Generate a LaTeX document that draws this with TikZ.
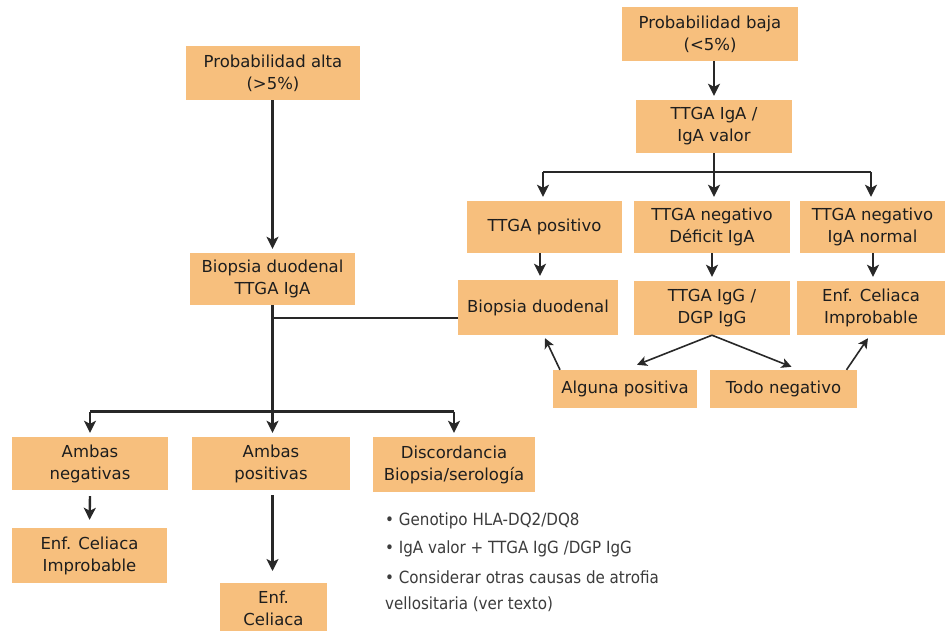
\documentclass[tikz,border=0pt]{standalone}
\usepackage{fontspec}
\setmainfont{DejaVu Sans}
\newfontfamily\notefont{DejaVu Sans Condensed}
\usetikzlibrary{arrows.meta,calc}
\definecolor{boxfill}{RGB}{247,191,125}
\definecolor{boxtext}{RGB}{30,30,30}
\definecolor{linecol}{RGB}{40,40,40}
\definecolor{notecol}{RGB}{60,60,60}
\tikzset{
  box/.style={fill=boxfill, draw=none, align=center, inner sep=0pt,
    text=boxtext, font=\fontsize{16.5}{22}\selectfont},
  arr/.style={draw=linecol, line width=2.4pt,
    -{Stealth[length=12pt,width=12pt,inset=3pt]}, shorten >=4pt},
  thinarr/.style={draw=linecol, line width=1.6pt,
    -{Stealth[length=10pt,width=10pt,inset=2.5pt]}},
  plain/.style={draw=linecol, line width=2.4pt},
  note/.style={anchor=west, inner sep=0pt, text=notecol,
    font=\notefont\fontsize{16.8}{18}\selectfont}
}
\begin{document}
\begin{tikzpicture}[x=1pt,y=-1pt]
\clip (0,0) rectangle (945,630);
\fill[white] (0,0) rectangle (945,630);

% right branch: low probability
\node[box, minimum width=176pt, minimum height=54pt] (baja) at (710,34) {Probabilidad baja\\(<5\%)};
\node[box, minimum width=156pt, minimum height=53pt] (ttgaiga) at (714,126.5) {TTGA IgA /\\IgA valor};
\node[box, minimum width=155pt, minimum height=52pt] (tpos) at (544.5,227) {TTGA positivo};
\node[box, minimum width=156pt, minimum height=52pt] (tdef) at (712,227) {TTGA negativo\\Déficit IgA};
\node[box, minimum width=145pt, minimum height=52pt] (tnorm) at (872.5,227) {TTGA negativo\\IgA normal};
\node[box, minimum width=160pt, minimum height=55pt] (biopsiab) at (538,307.5) {Biopsia duodenal};
\node[box, minimum width=156pt, minimum height=54pt] (ttgaigg) at (712,308) {TTGA IgG /\\DGP IgG};
\node[box, minimum width=148pt, minimum height=54pt] (improbb) at (871,308) {Enf. Celiaca\\Improbable};
\node[box, minimum width=144pt, minimum height=38pt] (alguna) at (625,389) {Alguna positiva};
\node[box, minimum width=147pt, minimum height=38pt] (todo) at (783.5,389) {Todo negativo};

% left branch: high probability
\node[box, minimum width=174pt, minimum height=54pt] (alta) at (273,73) {Probabilidad alta\\(>5\%)};
\node[box, minimum width=165pt, minimum height=52pt] (biopsiaa) at (272.5,279) {Biopsia duodenal\\TTGA IgA};
\node[box, minimum width=156pt, minimum height=53pt] (ambneg) at (90,463.5) {Ambas\\negativas};
\node[box, minimum width=158pt, minimum height=53pt] (ambpos) at (271,463.5) {Ambas\\positivas};
\node[box, minimum width=162pt, minimum height=55pt] (discord) at (454,464.5) {Discordancia\\Biopsia/serología};
\node[box, minimum width=155pt, minimum height=55pt] (improba) at (89.5,555.5) {Enf. Celiaca\\Improbable};
\node[box, minimum width=107pt, minimum height=80pt, anchor=north] (celiaca) at (273.5,583) {};
\node[text=boxtext, font=\fontsize{16.5}{22}\selectfont, align=center] (celiacatxt) at (273.5,608) {Enf.\\Celiaca};

% notes under the discordance box
\node[note] (n1) at (385,521) {\textbullet\ Genotipo HLA-DQ2/DQ8};
\node[note] (n2) at (385,549) {\textbullet\ IgA valor + TTGA IgG /DGP IgG};
\node[note] (n3) at (385,577) {\textbullet\ Considerar otras causas de atrofia};
\node[note] (n4) at (385,604) {vellositaria (ver texto)};

% junction points
\coordinate (splitr) at (714,172);
\coordinate (join) at (272.5,318);
\coordinate (splitl) at (272.5,411.5);

% right connectors
\draw[arr] (baja.south -| splitr) -- (ttgaiga.north -| splitr);
\draw[plain] (ttgaiga.south -| splitr) -- (splitr);
\draw[plain] (splitr -| 543,0) -- (splitr -| 871,0);
\draw[arr] (splitr -| 543,0) -- (tpos.north -| 543,0);
\draw[arr] (splitr) -- (tdef.north -| splitr);
\draw[arr] (splitr -| 871,0) -- (tnorm.north -| 871,0);
\draw[arr] (tpos.south -| 540,0) -- (biopsiab.north -| 540,0);
\draw[arr] (tdef) -- (ttgaigg);
\draw[arr] (tnorm.south -| 873,0) -- (improbb.north -| 873,0);
\draw[thinarr] (ttgaigg.south) -- ([xshift=12pt,yshift=5pt]alguna.north);
\draw[thinarr] (ttgaigg.south) -- ([xshift=8pt,yshift=3pt]todo.north);
\draw[thinarr] ([xshift=-65pt]alguna.north) -- ([xshift=7pt,yshift=-3pt]biopsiab.south);
\draw[thinarr] ([xshift=63pt]todo.north) -- ([xshift=-3pt,yshift=-3pt]improbb.south);

% left connectors
\draw[arr] (alta.south -| splitl) -- (biopsiaa.north -| splitl);
\draw[plain] (biopsiaa.south) -- (splitl);
\draw[plain] (join) -- (join -| biopsiab.west);
\draw[plain] (splitl -| ambneg.north) -- (splitl -| discord.north);
\draw[arr] (splitl -| ambneg.north) -- (ambneg.north);
\draw[arr] (splitl) -- (ambpos.north -| splitl);
\draw[arr] (splitl -| discord.north) -- (discord.north);
\draw[arr] ([yshift=-6pt]ambneg.south) -- ([yshift=4pt]improba.north);
\draw[arr] ([yshift=-5pt]ambpos.south -| splitl) -- ([yshift=8pt]celiaca.north -| splitl);
\end{tikzpicture}
\end{document}
